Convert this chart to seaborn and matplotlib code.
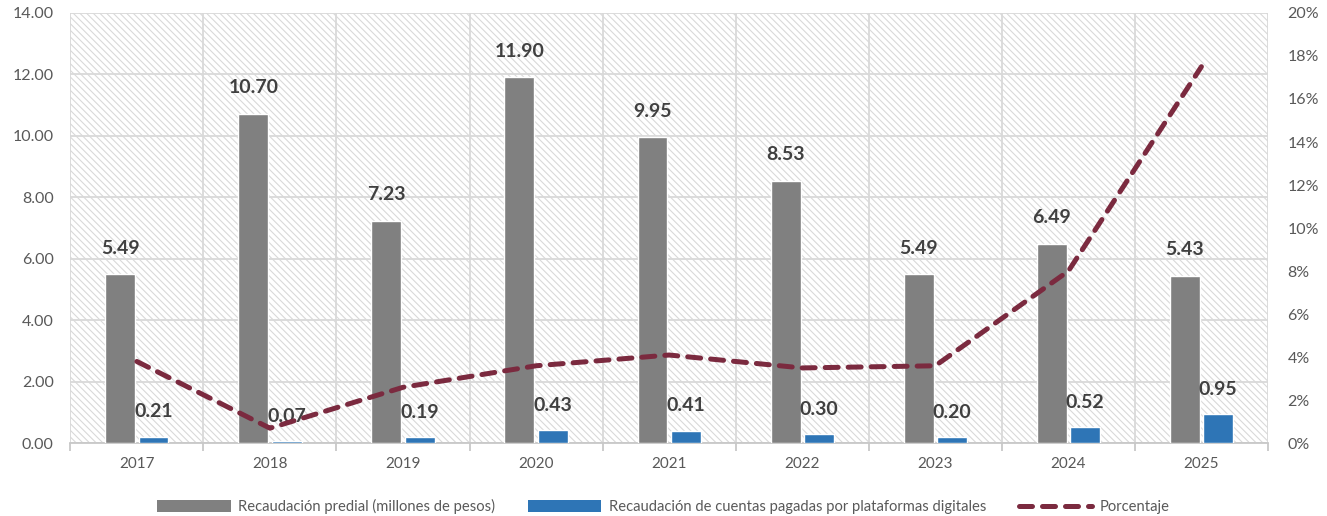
"""
recaudacion predial vs plataformas digitales, barras + porcentaje
"""
import numpy as np
import pandas as pd
import matplotlib
matplotlib.use("Agg")
import matplotlib.pyplot as plt
from matplotlib.patches import Rectangle, Patch
from matplotlib.lines import Line2D
from matplotlib.ticker import FuncFormatter, FixedLocator
import seaborn as sns

sns.set_theme(style="white")
plt.rcParams["font.family"] = ["Lato", "DejaVu Sans"]
plt.rcParams["hatch.linewidth"] = 0.8

years = ["2017", "2018", "2019", "2020", "2021", "2022", "2023", "2024", "2025"]
predial = [5.49, 10.70, 7.23, 11.90, 9.95, 8.53, 5.49, 6.49, 5.43]
digital = [0.21, 0.07, 0.19, 0.43, 0.41, 0.30, 0.20, 0.52, 0.95]
porcentaje = [3.8, 0.7, 2.6, 3.6, 4.1, 3.5, 3.6, 8.0, 17.5]

lab_pred = "Recaudación predial (millones de pesos)"
lab_dig = "Recaudación de cuentas pagadas por plataformas digitales"
lab_pct = "Porcentaje"

GRAY = "#808080"
BLUE = "#2E75B6"
WINE = "#7B2A3F"
GRID = "#d9d9d9"
TXT = "#595959"

df = pd.DataFrame({
    "year": years * 2,
    "valor": predial + digital,
    "serie": [lab_pred] * len(years) + [lab_dig] * len(years),
})

fig = plt.figure(figsize=(13.27, 5.16), dpi=100)
ax = fig.add_axes([0.053, 0.141, 0.9025, 0.834])

# hatched background
ax.add_patch(Rectangle((0, 0), 1, 1, transform=ax.transAxes, fill=False,
                       hatch="\\\\\\\\\\", edgecolor=GRID, linewidth=0, zorder=0))

sns.barplot(data=df, x="year", y="valor", hue="serie", order=years,
            hue_order=[lab_pred, lab_dig], palette=[GRAY, BLUE], saturation=1,
            width=0.5, gap=0.1, ax=ax, zorder=3, legend=False)

ax.set_xlim(-0.5, 8.5)
ax.set_ylim(0, 14)
ax.set_yticks(np.arange(0, 14.1, 2))
ax.yaxis.set_major_formatter(FuncFormatter(lambda v, p: f"{v:.2f}"))
ax.xaxis.set_minor_locator(FixedLocator(np.arange(-0.5, 9, 1)))
ax.grid(True, axis="y", color=GRID, linewidth=1.3)
ax.grid(True, axis="x", which="minor", color=GRID, linewidth=1.3)
ax.set_axisbelow(True)
ax.set_xlabel("")
ax.set_ylabel("")
for s in ["top", "left", "right"]:
    ax.spines[s].set_visible(False)
ax.spines["bottom"].set_color("#c8c8c8")
ax.spines["bottom"].set_linewidth(1.3)
ax.tick_params(axis="x", which="major", length=0, labelsize=11, labelcolor=TXT, pad=10)
ax.tick_params(axis="x", which="minor", length=6, width=1.3, color="#c8c8c8", direction="out", bottom=True)
ax.tick_params(axis="y", length=0, labelsize=11.5, labelcolor=TXT, pad=12)

# data labels
for i, (p, d) in enumerate(zip(predial, digital)):
    ax.annotate(f"{p:.2f}", (i - 0.125, p), xytext=(0, 19), textcoords="offset points",
                ha="center", va="center", fontsize=14, fontweight="bold", color="#404040", zorder=6)
    ax.annotate(f"{d:.2f}", (i + 0.125, d), xytext=(0, 18), textcoords="offset points",
                ha="center", va="center", fontsize=14, fontweight="bold", color="#404040", zorder=6)

ax2 = ax.twinx()
sns.lineplot(x=np.arange(len(years)), y=porcentaje, ax=ax2, color=WINE,
             linewidth=3.6, zorder=5)
ln = ax2.lines[0]
ln.set_linestyle((0, (2.6, 2.0)))
ln.set_dash_capstyle("round")
ax2.set_ylim(0, 20)
ax2.set_yticks(np.arange(0, 20.1, 2))
ax2.yaxis.set_major_formatter(FuncFormatter(lambda v, p: f"{v:.0f}%"))
ax2.tick_params(axis="y", length=0, labelsize=11.5, labelcolor=TXT, pad=14)
for s in ax2.spines.values():
    s.set_visible(False)
ax2.set_xlim(-0.5, 8.5)

handles = [
    Patch(facecolor=GRAY, edgecolor="none"),
    Patch(facecolor=BLUE, edgecolor="none"),
    Line2D([0], [0], color=WINE, linewidth=3.6, linestyle=(0, (2.6, 2.0)),
           dash_capstyle="round"),
]
fig.legend(handles, [lab_pred, lab_dig, lab_pct], loc="center", ncol=3,
           bbox_to_anchor=(0.5, 0.018), frameon=False, fontsize=10.6,
           handlelength=5.0, handleheight=0.9, columnspacing=2.2,
           handletextpad=0.5, labelcolor=TXT)

fig.savefig("out.png", dpi=100)
